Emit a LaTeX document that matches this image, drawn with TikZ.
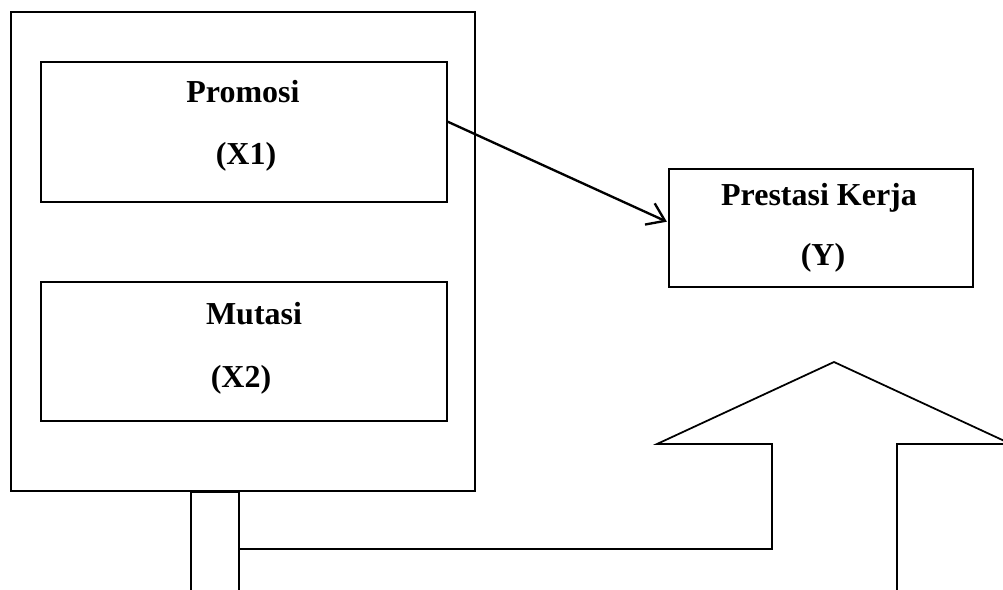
\documentclass[tikz,border=0pt]{standalone}
\usepackage{fontspec}
\setmainfont{Liberation Serif}
\usetikzlibrary{arrows.meta,positioning}
\tikzset{
  frame/.style={draw,line width=1.5pt,inner sep=0pt,outer sep=0pt},
  varbox/.style={draw,line width=1.1pt,inner sep=0pt,outer sep=0pt},
  lbl/.style={font=\fontsize{27.3}{32}\selectfont\bfseries,inner sep=0pt},
  ar/.style={-{Straight Barb[length=5mm,width=7mm,line width=2pt]},line width=2pt},
  flow/.style={line width=1.5pt,line join=miter}
}
\begin{document}
\begin{tikzpicture}[x=0.03cm,y=-0.03cm]
\useasboundingbox (0,0) rectangle (1003,590);
\clip (0,0) rectangle (1003,590);
% independent variables
\node[frame,minimum width=13.92cm,minimum height=14.37cm] (grp) at (243,251.5) {};
\node[varbox,minimum width=12.18cm,minimum height=4.2cm] (promosi) at (244,132) {};
\node[varbox,minimum width=12.18cm,minimum height=4.17cm] (mutasi) at (244,351.5) {};
\node[lbl] (promosiT) at (243,92) {Promosi};
\node[lbl] (xone) at (246,157) {(X1)};
\node[lbl] (mutasiT) at (254,314) {Mutasi};
\node[lbl] (xtwo) at (241,380) {(X2)};
% dependent variable
\node[varbox,minimum width=9.12cm,minimum height=3.54cm] (prestasi) at (821,228) {};
\node[lbl] (prestasiT) at (819,198) {Prestasi Kerja};
\node[lbl] (yy) at (823,258) {(Y)};
\draw[ar,shorten >=2pt] (promosi.3.7) -- (prestasi.178);
% joint effect
\coordinate (p1) at (191,590);
\coordinate (p2) at (191,492);
\coordinate (p3) at (239,492);
\coordinate (p4) at (239,590);
\coordinate (q1) at (239,549);
\coordinate (q2) at (772,549);
\coordinate (q3) at (772,444);
\coordinate (q4) at (657,444);
\coordinate (tip) at (834,362);
\coordinate (q5) at (1011,444);
\coordinate (q6) at (897,444);
\coordinate (q7) at (897,590);
\draw[flow] (p1) -- (p2) -- (p3) -- (p4);
\draw[flow] (q1) -- (q2) -- (q3) -- (q4) -- (tip) -- (q5) -- (q6) -- (q7);
\end{tikzpicture}
\end{document}
